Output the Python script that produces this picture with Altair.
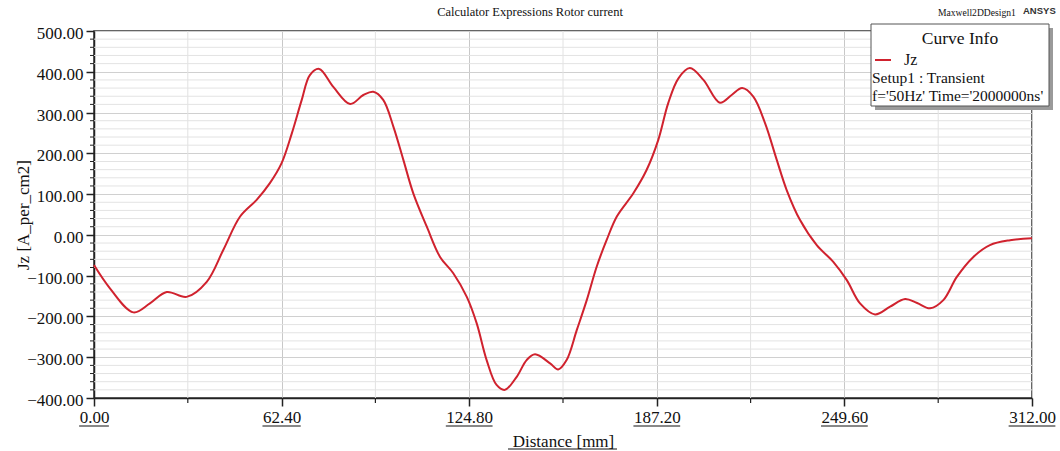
import altair as alt
import pandas as pd

# ---- data ----
distance_mm = [0, 5.3, 13.1, 18.6, 24.2, 30.8, 37.5, 43.0, 48.6, 54.1,
               58.5, 62.4, 65.8, 69.1, 71.8, 74.9, 79.6, 85.2, 89.6, 92.9,
               96.2, 99.6, 102.9, 106.2, 110.7, 115.1, 119.5, 124.0, 127.3, 130.6,
               133.9, 136.7, 140.6, 143.9, 146.7, 151.7, 154.4, 157.2, 160.6, 163.9,
               167.2, 170.5, 173.9, 179.4, 183.8, 187.7, 191.0, 194.4, 198.2, 202.7,
               208.2, 212.1, 215.6, 219.3, 223.2, 227.1, 230.4, 234.8, 240.4, 245.9,
               250.4, 254.8, 259.8, 264.8, 269.8, 273.8, 278.1, 282.5, 287.0, 292.5,
               298.0, 304.7, 312.0]
jz = [-74, -131, -190, -168, -140, -152, -115, -37, 45, 86,
      127, 176, 249, 331, 392, 407, 363, 321, 343, 351,
      331, 265, 184, 102, 20, -54, -94, -152, -217, -307,
      -368, -380, -348, -307, -293, -315, -330, -307, -233, -160,
      -78, -13, 45, 102, 159, 233, 323, 384, 409, 380,
      324, 343, 360, 339, 274, 184, 110, 37, -25, -66,
      -111, -168, -195, -176, -157, -167, -180, -160, -103, -54,
      -25, -13, -8]

x_ticks = [0.0, 62.4, 124.8, 187.2, 249.6, 312.0]
x_labels = ["0.00", "62.40", "124.80", "187.20", "249.60", "312.00"]
x_minor = [31.2, 93.6, 156.0, 218.4, 280.8]
y_ticks = list(range(-400, 501, 100))
y_minor = [v for v in range(-400, 501, 20) if v % 100 != 0]

W, H = 938, 367
SERIF = "Liberation Serif"
RED = "#d0222e"
FS = 17

df = pd.DataFrame({"Distance": distance_mm, "Jz": jz})

xscale = alt.Scale(domain=[0, 312], nice=False, zero=False)
yscale = alt.Scale(domain=[-400, 500], nice=False, zero=False)

# minor grid
minor_v = alt.Chart(pd.DataFrame({"x": x_minor})).mark_rule(
    color="#e2e2e2", strokeWidth=1).encode(
    x=alt.X("x:Q", scale=xscale), y=alt.value(0), y2=alt.value(H))
minor_h = alt.Chart(pd.DataFrame({"y": y_minor})).mark_rule(
    color="#e3e3e3", strokeWidth=1).encode(
    y=alt.Y("y:Q", scale=yscale), x=alt.value(0), x2=alt.value(W))
minor_xt = alt.Chart(pd.DataFrame({"x": x_minor})).mark_rule(
    color="#222", strokeWidth=1.2, clip=False).encode(
    x=alt.X("x:Q", scale=xscale), y=alt.value(H), y2=alt.value(H + 5))
minor_yt = alt.Chart(pd.DataFrame({"y": y_minor})).mark_rule(
    color="#222", strokeWidth=1, clip=False).encode(
    y=alt.Y("y:Q", scale=yscale), x=alt.value(-4), x2=alt.value(0))

line = alt.Chart(df).mark_line(color=RED, strokeWidth=2, interpolate="catmull-rom").encode(
    x=alt.X("Distance:Q", scale=xscale,
            axis=alt.Axis(values=x_ticks, format=".2f", title="Distance [mm]",
                          tickSize=8, tickColor="#222", tickWidth=1.5,
                          domainColor="#222", domainWidth=1.5,
                          gridColor="#c8c8c8", gridWidth=1,
                          labelFont=SERIF, labelFontSize=FS, labelColor="#111",
                          labelPadding=3, labelFlush=False,
                          titleFont=SERIF, titleFontSize=FS, titleFontWeight="normal",
                          titleColor="#111", titleX=W / 2, titleY=48,
                          titleBaseline="alphabetic", titleAlign="center")),
    y=alt.Y("Jz:Q", scale=yscale,
            axis=alt.Axis(values=y_ticks, format=".2f", title="Jz [A_per_cm2]",
                          tickSize=8, tickColor="#222", tickWidth=1.5,
                          domainColor="#222", domainWidth=1.5,
                          gridColor="#d0d0d0", gridWidth=1,
                          labelFont=SERIF, labelFontSize=FS, labelColor="#111",
                          labelPadding=3, labelOffset=2.5, labelFlush=False,
                          titleFont=SERIF, titleFontSize=FS, titleFontWeight="normal",
                          titleColor="#111", titleAngle=-90, titleX=-66, titleY=H / 2,
                          titleBaseline="alphabetic", titleAlign="center")),
)

# underlines of x labels (label width estimate: digits 0.5em, '.' 0.25em)
pxmm = W / 312.0
ul = []
for t, lab in zip(x_ticks, x_labels):
    w = sum(FS * 0.25 if c == "." else FS * 0.5 for c in lab)
    ul.append({"lo": t - w / 2 / pxmm, "hi": t + w / 2 / pxmm})
underline = alt.Chart(pd.DataFrame(ul)).mark_rule(color="#111", strokeWidth=1, clip=False).encode(
    x=alt.X("lo:Q", scale=xscale), x2="hi:Q", y=alt.value(H + 28))
title_ul = alt.Chart(alt.Data(values=[{}])).mark_rule(color="#111", strokeWidth=1).encode(
    x=alt.value(414), x2=alt.value(523), y=alt.value(H + 51))


def txt(s, x, y, size, align="left", font=SERIF, weight="normal", color="#111"):
    return alt.Chart(alt.Data(values=[{}])).mark_text(
        text=s, align=align, baseline="alphabetic", font=font, fontSize=size,
        fontWeight=weight, color=color).encode(x=alt.value(x), y=alt.value(y))


head = txt("Calculator Expressions Rotor current", 436, -15, 12.5, align="center")
design = txt("Maxwell2DDesign1", 844, -15, 9.6)
ansys = txt("ANSYS", 929, -17, 9.5, font="Liberation Sans", weight="bold", color="#333")

# legend box
shadow = alt.Chart(alt.Data(values=[{}])).mark_rect(fill="#9a9a9a").encode(
    x=alt.value(781), x2=alt.value(959), y=alt.value(-3), y2=alt.value(79))
box = alt.Chart(alt.Data(values=[{}])).mark_rect(fill="white", stroke="#555", strokeWidth=1).encode(
    x=alt.value(777), x2=alt.value(955), y=alt.value(-7), y2=alt.value(75))
leg_line = alt.Chart(alt.Data(values=[{}])).mark_rule(color=RED, strokeWidth=2).encode(
    x=alt.value(781), x2=alt.value(797), y=alt.value(29))
leg_title = txt("Curve Info", 866, 13, 17.5, align="center")
leg_jz = txt("Jz", 810, 34, 16)
leg_setup = txt("Setup1 : Transient", 778, 52, 15.5)
leg_f = txt("f='50Hz' Time='2000000ns'", 778, 70, 15.5)

chart = alt.layer(
    minor_v, minor_h, minor_xt, minor_yt, line, underline, title_ul,
    head, design, ansys, shadow, box, leg_line, leg_title, leg_jz, leg_setup, leg_f
).properties(
    width=W, height=H,
    autosize=alt.AutoSizeParams(type="none"),
    padding={"left": 94, "top": 31, "right": 28, "bottom": 53},
    background="white",
).configure_view(stroke="#333", strokeWidth=1.5)

chart.save("out.html", embed_options={"renderer": "svg", "actions": False})
